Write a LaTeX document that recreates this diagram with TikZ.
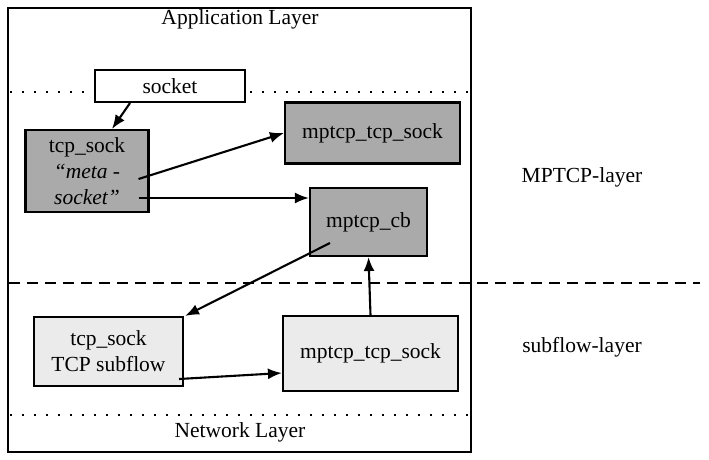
\documentclass[tikz,border=0pt]{standalone}
\usepackage{fontspec}
\setmainfont{Liberation Serif}
\newfontfamily\diagfont{Liberation Serif}
\usetikzlibrary{arrows.meta}
\definecolor{darkfill}{HTML}{AAAAAA}
\definecolor{lightfill}{HTML}{EBEBEB}
\begin{document}
\begin{tikzpicture}[x=1pt,y=-1pt,
  txt/.style={font=\diagfont\fontsize{21.5}{26}\selectfont},
  box/.style={draw, line width=2.1pt, inner sep=0pt, align=center, txt},
  lbl/.style={inner sep=0pt, txt, anchor=base},
  conn/.style={line width=2.1pt, -{Latex[length=14pt,width=11pt]}},
  dotline/.style={line width=2.2pt, dash pattern=on 2.2pt off 9.8pt},
  dashline/.style={line width=2.2pt, dash pattern=on 11pt off 7pt},
]
\useasboundingbox (0,0) rectangle (709,459);
% outer frame
\node[draw, line width=2.1pt, minimum width=463pt, minimum height=444pt, inner sep=0pt] (outer) at (239.5,230) {};
% separator lines
\coordinate (d1l) at (10,92);
\coordinate (d1r) at (468,92);
\coordinate (d2l) at (9,283);
\coordinate (d2r) at (700,283);
\coordinate (d3l) at (10,415);
\coordinate (d3r) at (468,415);
\draw[dotline] (d1l) -- (d1r);
\draw[dashline] (d2l) -- (d2r);
\draw[dotline] (d3l) -- (d3r);
% labels
\node[lbl] (app) at (240,24) {Application Layer};
\node[lbl] (net) at (240,437) {Network Layer};
\node[lbl] (mplayer) at (582,182) {MPTCP-layer};
\node[lbl] (sflayer) at (582,352) {subflow-layer};
% boxes
\node[box, fill=white, minimum width=150pt, minimum height=32pt] (socket) at (170,86) {socket};
\node[box, fill=darkfill, minimum width=123pt, minimum height=82pt] (meta) at (87,171)
  {tcp\_sock\\\textit{“meta -}\\\textit{socket”}};
\node[box, fill=darkfill, minimum width=175pt, minimum height=61pt] (mts) at (372.5,133) {mptcp\_tcp\_sock};
\node[box, fill=darkfill, minimum width=117pt, minimum height=68pt] (cb) at (368.5,222) {mptcp\_cb};
\node[box, fill=lightfill, minimum width=149pt, minimum height=69pt] (sub) at (108.5,351.5)
  {tcp\_sock\\TCP subflow};
\node[box, fill=lightfill, minimum width=175pt, minimum height=75pt] (mbs) at (370.5,353.5) {mptcp\_tcp\_sock};
% connectors
\draw[conn] ([xshift=-40pt]socket.south) -- ([xshift=25pt]meta.north);
\draw[conn] ([xshift=-11pt,yshift=-8pt]meta.east) -- (mts.west);
\draw[conn] ([xshift=-11pt,yshift=-27pt]meta.east) -- ([yshift=24pt]cb.west);
\draw[conn] ([xshift=-38.5pt,yshift=-21pt]cb.center) -- ([xshift=1pt]sub.north east);
\draw[conn] ([xshift=-5pt,yshift=-27.5pt]sub.east) -- ([yshift=-19.5pt]mbs.west);
\draw[conn] (mbs.north) -- (cb.south);
\end{tikzpicture}
\end{document}
